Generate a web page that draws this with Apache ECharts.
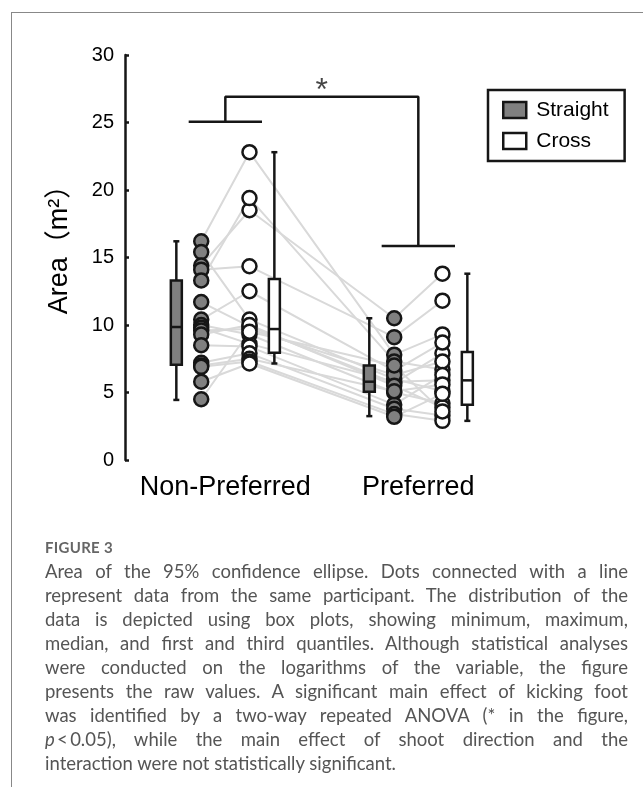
<!DOCTYPE html>
<html>
<head>
<meta charset="utf-8">
<script src="https://cdn.jsdelivr.net/npm/echarts@6/dist/echarts.min.js"></script>
<style>
  html, body { margin: 0; padding: 0; background: #fff; }
  #wrap { position: relative; width: 643px; height: 787px; overflow: hidden; }
  #chart { position: absolute; left: 0; top: 0; width: 643px; height: 787px; }
  #frame { position: absolute; left: 11px; top: 12px; width: 700px; height: 800px;
           border-left: 1px solid #888; border-top: 1px solid #888; pointer-events: none; }
  #caption { position: absolute; left: 45px; top: 0; width: 583px;
             font-family: Lato, "Open Sans", sans-serif; color: #555; }
  .fig { position: absolute; left: 0; font-size: 15px; font-weight: 700; color: #666; letter-spacing: 0.3px; white-space: nowrap; line-height: 1; }
  .cl { position: absolute; left: 0; font-size: 18.5px; white-space: nowrap; line-height: 1; }
</style>
</head>
<body>
<div id="wrap">
  <div id="chart"></div>
  <div id="frame"></div>
  <div id="caption"></div>
</div>
<script>
// ---------------- data ----------------
const categories = ['Non-Preferred', 'Preferred'];
const seriesNames = ['Straight', 'Cross'];
// one value per participant (same order in all four arrays)
const nonPrefStraight = [16.2, 15.4, 14.4, 14.1, 13.3, 11.7, 10.4, 10.0, 9.8, 9.6, 9.3, 8.5, 7.2, 7.0, 6.9, 5.8, 4.5];
const nonPrefCross    = [22.8, 10.4, 18.5, 14.35, 19.4, 9.9, 12.5, 9.3, 8.6, 9.7, 10.0, 8.4, 7.9, 7.5, 7.3, 7.15, 9.5];
const prefStraight    = [7.8, 6.0, 10.5, 9.1, 7.3, 5.7, 6.6, 5.0, 5.8, 6.3, 5.5, 4.1, 3.8, 5.1, 3.4, 3.2, 7.0];
const prefCross       = [9.3, 5.1, 13.8, 11.8, 6.7, 7.9, 8.7, 4.2, 5.9, 7.3, 3.9, 6.3, 3.3, 5.6, 2.9, 4.9, 3.6];
// box plots: [min, Q1, median, Q3, max]
const boxNonPrefStraight = [4.45, 7.05, 9.85, 13.3, 16.2];
const boxNonPrefCross    = [7.15, 7.95, 9.7, 13.4, 22.8];
const boxPrefStraight    = [3.25, 5.05, 5.8, 7.0, 10.5];
const boxPrefCross       = [2.9, 4.1, 5.9, 8.0, 13.8];
// significance bracket levels (value units)
const bracketLowLeft = 25.05, bracketTop = 26.9, bracketLowRight = 15.85;
const yTicks = { min: 0, max: 30, interval: 5 };

// ---------------- layout constants ----------------
const DOT_OFF = 0.125, BOX_OFF = 0.254, BAR_HALF = 0.19;
const FONT = '"Liberation Sans", Arial, Helvetica, sans-serif';
const INK = '#161616';

const chart = echarts.init(document.getElementById('chart'), null, { renderer: 'canvas' });

const participantLines = nonPrefStraight.map((v, i) => ({
  type: 'line', silent: true, symbol: 'none', z: 1, animation: false,
  lineStyle: { color: '#d9d9d9', width: 2 },
  data: [[1 - DOT_OFF, v], [1 + DOT_OFF, nonPrefCross[i]], [2 - DOT_OFF, prefStraight[i]], [2 + DOT_OFF, prefCross[i]]]
}));

function boxRender(fill) {
  return function (params, api) {
    const x = api.value(0);
    const lo = api.coord([x, api.value(1)]);
    const q1 = api.coord([x, api.value(2)]);
    const md = api.coord([x, api.value(3)]);
    const q3 = api.coord([x, api.value(4)]);
    const hi = api.coord([x, api.value(5)]);
    const w = 11, cap = 6, cx = hi[0];
    const ls = { stroke: INK, lineWidth: 2.5 };
    return {
      type: 'group',
      children: [
        { type: 'line', shape: { x1: cx, y1: hi[1], x2: cx, y2: lo[1] }, style: ls },
        { type: 'line', shape: { x1: cx - cap / 2, y1: hi[1], x2: cx + cap / 2, y2: hi[1] }, style: ls },
        { type: 'line', shape: { x1: cx - cap / 2, y1: lo[1], x2: cx + cap / 2, y2: lo[1] }, style: ls },
        { type: 'rect', shape: { x: cx - w / 2, y: q3[1], width: w, height: q1[1] - q3[1] }, style: { fill: fill, stroke: INK, lineWidth: 2.5 } },
        { type: 'line', shape: { x1: cx - w / 2, y1: md[1], x2: cx + w / 2, y2: md[1] }, style: ls }
      ]
    };
  };
}

const option = {
  animation: false,
  grid: { left: 125, top: 55, width: 467, height: 405 },
  xAxis: {
    type: 'value', min: 0.48, max: 2.9,
    axisLine: { show: false }, axisTick: { show: false }, splitLine: { show: false },
    axisLabel: {
      customValues: [1, 2],
      formatter: v => categories[Math.round(v) - 1] || '',
      fontSize: 27, color: '#000', fontFamily: FONT, margin: 14
    }
  },
  yAxis: {
    type: 'value', min: yTicks.min, max: yTicks.max, interval: yTicks.interval,
    axisLine: { show: true, lineStyle: { color: INK, width: 2.5 } },
    axisTick: { show: true, inside: true, length: 4, lineStyle: { color: INK, width: 2.5 } },
    axisLabel: { fontSize: 20, color: '#000', fontFamily: FONT, margin: 11 },
    splitLine: { show: false }
  },
  legend: {
    data: seriesNames, orient: 'vertical', left: 488, top: 90,
    padding: [9, 16, 9, 14], itemGap: 9, itemWidth: 23, itemHeight: 16,
    icon: 'rect', selectedMode: false,
    borderColor: INK, borderWidth: 2.5, backgroundColor: '#fff',
    itemStyle: { borderColor: INK, borderWidth: 2.5 },
    textStyle: { fontSize: 21, color: '#000', fontFamily: FONT, padding: [0, 0, 0, 5], lineHeight: 22 }
  },
  graphic: [{
    type: 'text', x: 60, y: 243, rotation: Math.PI / 2,
    style: { text: 'Area（m²）', fontSize: 27, fontFamily: '"Liberation Sans", Arial, "Noto Sans CJK JP", sans-serif', fill: '#000', align: 'center', verticalAlign: 'middle' }
  }],
  series: [
    ...participantLines,
    {
      type: 'custom', z: 3, silent: true, renderItem: boxRender('#808080'),
      data: [[1 - BOX_OFF, ...boxNonPrefStraight], [2 - BOX_OFF, ...boxPrefStraight]]
    },
    {
      type: 'custom', z: 3, silent: true, renderItem: boxRender('#ffffff'),
      data: [[1 + BOX_OFF, ...boxNonPrefCross], [2 + BOX_OFF, ...boxPrefCross]]
    },
    {
      name: 'Straight', type: 'scatter', z: 4, symbolSize: 14, silent: true,
      itemStyle: { color: '#808080', borderColor: INK, borderWidth: 2.5, opacity: 1 },
      data: nonPrefStraight.map(v => [1 - DOT_OFF, v]).concat(prefStraight.map(v => [2 - DOT_OFF, v]))
    },
    {
      name: 'Cross', type: 'scatter', z: 4, symbolSize: 14, silent: true,
      itemStyle: { color: '#ffffff', borderColor: INK, borderWidth: 2.5, opacity: 1 },
      data: nonPrefCross.map(v => [1 + DOT_OFF, v]).concat(prefCross.map(v => [2 + DOT_OFF, v]))
    },
    {
      type: 'line', z: 5, silent: true, symbol: 'none',
      lineStyle: { color: INK, width: 2.5 },
      data: [[1 - BAR_HALF, bracketLowLeft], [1 + BAR_HALF, bracketLowLeft], null,
             [1, bracketLowLeft], [1, bracketTop], [2, bracketTop], [2, bracketLowRight], null,
             [2 - BAR_HALF, bracketLowRight], [2 + BAR_HALF, bracketLowRight]],
      connectNulls: false
    },
    {
      type: 'scatter', z: 5, silent: true, symbolSize: 1,
      itemStyle: { color: 'rgba(0,0,0,0)' },
      label: { show: true, position: 'inside', formatter: '*', fontSize: 32, color: INK, fontFamily: FONT },
      data: [[1.5, 27.3]]
    }
  ]
};
chart.setOption(option);

// ---------------- caption (HTML text) ----------------
const captionTitle = 'FIGURE 3';
const captionLines = [
  'Area of the 95% confidence ellipse. Dots connected with a line',
  'represent data from the same participant. The distribution of the',
  'data is depicted using box plots, showing minimum, maximum,',
  'median, and first and third quantiles. Although statistical analyses',
  'were conducted on the logarithms of the variable, the figure',
  'presents the raw values. A significant main effect of kicking foot',
  'was identified by a two-way repeated ANOVA (* in the figure,',
  '<i>p</i>\u2009<\u20090.05), while the main effect of shoot direction and the',
  'interaction were not statistically significant.'
];
const cap = document.getElementById('caption');
const title = document.createElement('div');
title.className = 'fig';
title.textContent = captionTitle;
title.style.top = '540px';
cap.appendChild(title);
const spans = [];
captionLines.forEach((t, i) => {
  const s = document.createElement('span');
  s.className = 'cl';
  s.innerHTML = t.replace('<\u2009', '&lt;\u2009');
  s.style.top = (562 + i * 24) + 'px';
  cap.appendChild(s);
  spans.push(s);
});
function justify() {
  spans.forEach((s, i) => {
    if (i === spans.length - 1) return;
    s.style.wordSpacing = '0px';
    const n = (s.textContent.match(/ /g) || []).length;
    const w = s.getBoundingClientRect().width;
    if (n > 0) s.style.wordSpacing = ((583 - w) / n) + 'px';
  });
}
justify();
if (document.fonts && document.fonts.ready) document.fonts.ready.then(justify);
</script>
</body>
</html>
